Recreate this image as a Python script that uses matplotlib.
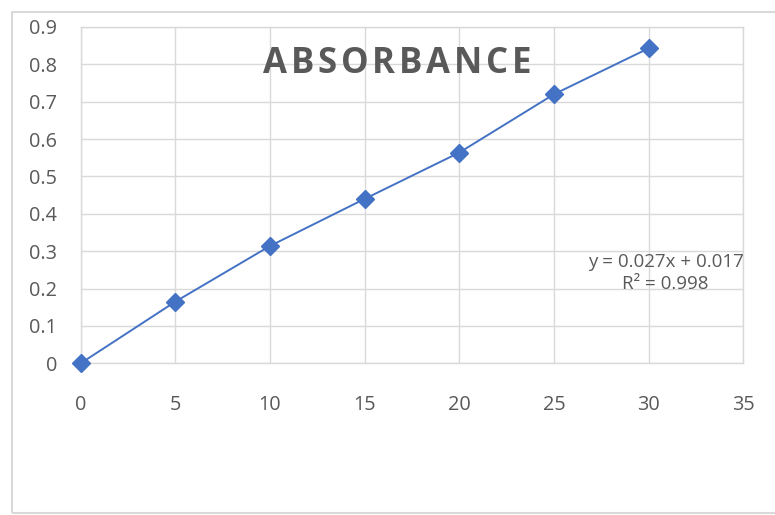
import matplotlib.pyplot as plt
from matplotlib.patches import Rectangle

# data
conc = [0, 5, 10, 15, 20, 25, 30]
absorbance = [0.0, 0.165, 0.314, 0.44, 0.564, 0.72, 0.843]
x_ticks = [0, 5, 10, 15, 20, 25, 30, 35]
y_ticks = [0, 0.1, 0.2, 0.3, 0.4, 0.5, 0.6, 0.7, 0.8, 0.9]
y_labels = ["0", "0.1", "0.2", "0.3", "0.4", "0.5", "0.6", "0.7", "0.8", "0.9"]
title = "ABSORBANCE"
equation = "y = 0.027x + 0.017\nR² = 0.998"

plt.rcParams['font.family'] = ['Open Sans', 'DejaVu Sans']
grey = "#595959"
grid = "#d9d9d9"
blue = "#4472C4"

fig = plt.figure(figsize=(7.75, 5.15), dpi=100)
W, H = 775, 515

# outer chart frame (runs off the right edge)
fig.patches.append(Rectangle((11.7 / W, 1 - 513 / H), 1.2, (513 - 12) / H,
                             transform=fig.transFigure, fill=False,
                             edgecolor=grid, linewidth=1.5, clip_on=False))

ax = fig.add_axes([80.7 / W, 1 - 363.3 / H, (743.3 - 80.7) / W, (363.3 - 27) / H])
ax.plot(conc, absorbance, color=blue, linewidth=1.4, marker="D",
        markersize=8.8, markerfacecolor=blue, markeredgecolor=blue,
        zorder=3, clip_on=False)

ax.set_xlim(0, 35)
ax.set_ylim(0, 0.9)
ax.set_xticks(x_ticks)
ax.set_yticks(y_ticks)
ax.set_yticklabels(y_labels)
ax.grid(True, color=grid, linewidth=1)
for s in ax.spines.values():
    s.set_color(grid)
    s.set_linewidth(1)
ax.tick_params(length=0, labelsize=14.3, colors=grey)
ax.tick_params(axis='x', pad=23)
ax.tick_params(axis='y', pad=17)

# title with letter spacing, placed char by char
renderer = fig.canvas.get_renderer()
chars = []
for ch in title:
    t = fig.text(0, 1 - 73.3 / H, ch, fontsize=25, fontweight="bold",
                 color=grey, va="baseline", ha="left")
    chars.append((t, t.get_window_extent(renderer).width))
total = 268
gap = (total - sum(w for _, w in chars)) / (len(chars) - 1)
x = 263
for t, w in chars:
    t.set_x(x / W)
    x += w + gap

ax.text(30.9, 0.242, equation, ha="center", va="center", fontsize=13.5,
        color=grey, linespacing=1.25)

fig.savefig("out.png", dpi=100)
